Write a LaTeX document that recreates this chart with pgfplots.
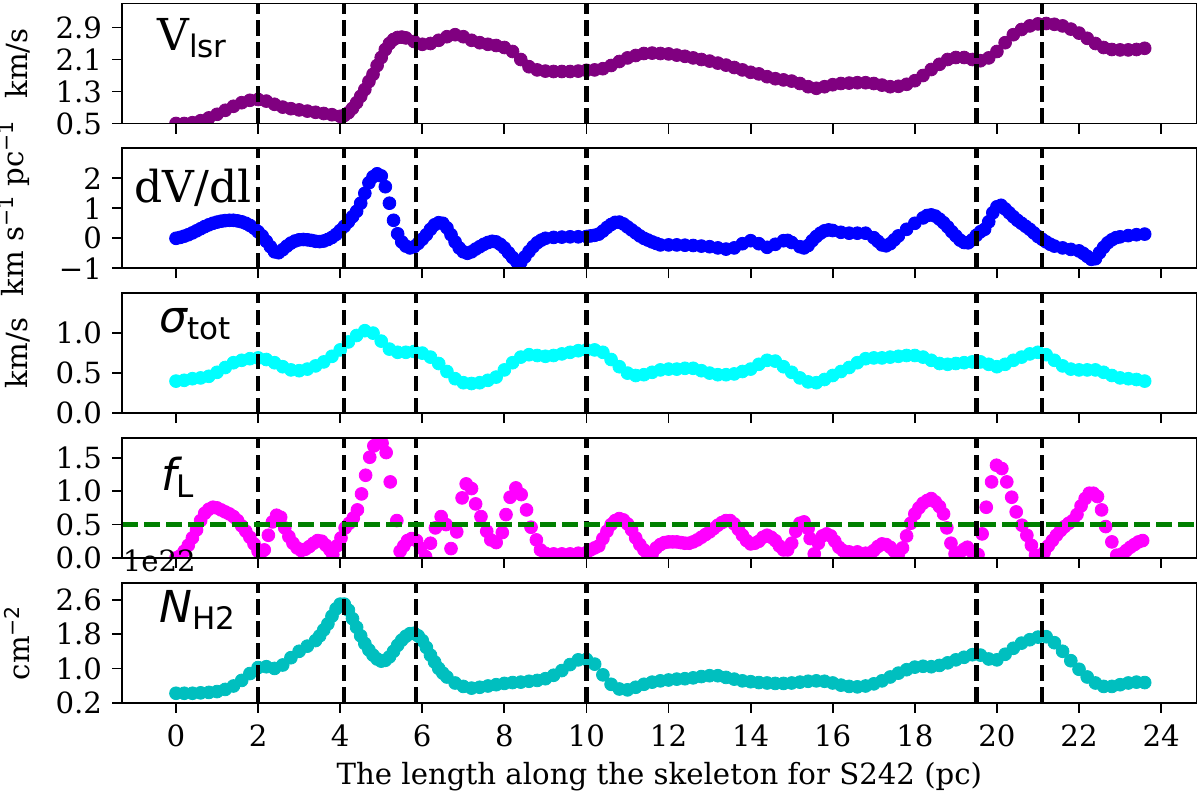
\documentclass[border=0pt]{standalone}
\usepackage{fontspec}
\setmainfont{DejaVu Serif}
\newfontfamily\sansf[ItalicFont={DejaVu Sans Oblique}]{DejaVu Sans}
\usepackage{pgfplots}
\pgfplotsset{compat=1.18}
\definecolor{vcol}{RGB}{128,0,128}
\definecolor{dcol}{RGB}{0,0,255}
\definecolor{scol}{RGB}{0,255,255}
\definecolor{fcol}{RGB}{255,0,255}
\definecolor{ncol}{RGB}{0,191,191}
\definecolor{gcol}{RGB}{0,128,0}
\newcommand{\tfs}{\fontsize{14.6}{17}\selectfont}
\newcommand{\lfs}{\fontsize{22}{26}\selectfont}
\newcommand{\sfs}{\fontsize{15.5}{18}\selectfont}
\pgfplotsset{
 panel/.style={
  scale only axis, width=537pt, height=60pt, anchor=north west,
  xmin=-1.306, xmax=24.86,
  xtick={0,2,...,24}, xticklabels={},
  tick pos=left, tick align=outside,
  major tick length=5pt,
  tick style={black, line width=0.9pt},
  axis line style={line width=0.9pt},
  ticklabel style={font=\tfs},
  yticklabel style={inner sep=0pt, anchor=east, xshift=-5pt},
  xticklabel style={inner sep=0pt, anchor=north, yshift=-6pt},
  /pgf/number format/assume math mode=true,
  clip mode=individual, clip marker paths=true, axis on top=true,
 },
 dots/.style={only marks, mark=*, mark size=3.2pt, color=#1, line width=0.4pt, mark options={solid, fill=#1, draw=#1}},
 vl/.style={black, line width=2.1pt, dash pattern=on 7.7pt off 3.3pt, forget plot},
}
\begin{document}
\begin{tikzpicture}
% ---------------- panel 1 : V_lsr
\begin{axis}[panel, name=p1, at={(0pt,0pt)},
  ymin=0.5, ymax=3.5, ytick={0.5,1.3,2.1,2.9}, yticklabels={0.5,1.3,2.1,2.9}]
\addplot[dots=vcol] coordinates {(0,0.50) (0.2,0.50) (0.4,0.52) (0.6,0.57) (0.8,0.64) (1.0,0.73) (1.2,0.83) (1.4,0.93) (1.6,1.02) (1.8,1.08) (2.0,1.10) (2.2,1.06) (2.4,0.98) (2.6,0.91) (2.8,0.87) (3.0,0.84) (3.2,0.81) (3.4,0.78) (3.6,0.75) (3.8,0.72) (4.0,0.68) (4.1,0.70) (4.2,0.77) (4.3,0.88) (4.4,1.02) (4.5,1.18) (4.6,1.35) (4.7,1.55) (4.8,1.73) (4.9,1.95) (5.0,2.15) (5.1,2.35) (5.2,2.50) (5.3,2.60) (5.4,2.65) (5.5,2.66) (5.6,2.64) (5.8,2.55) (6.0,2.48) (6.2,2.50) (6.4,2.58) (6.6,2.67) (6.8,2.72) (7.0,2.67) (7.2,2.58) (7.4,2.52) (7.6,2.48) (7.8,2.45) (8.0,2.40) (8.2,2.30) (8.4,2.10) (8.6,1.92) (8.8,1.84) (9.0,1.81) (9.2,1.80) (9.4,1.80) (9.6,1.80) (9.8,1.81) (10.0,1.83) (10.2,1.84) (10.4,1.87) (10.6,1.95) (10.8,2.05) (11.0,2.14) (11.2,2.20) (11.4,2.25) (11.6,2.26) (11.8,2.25) (12.0,2.24) (12.2,2.21) (12.4,2.18) (12.6,2.14) (12.8,2.10) (13.0,2.06) (13.2,2.01) (13.4,1.96) (13.6,1.90) (13.8,1.84) (14.0,1.78) (14.2,1.74) (14.4,1.67) (14.6,1.62) (14.8,1.59) (15.0,1.56) (15.2,1.50) (15.4,1.42) (15.6,1.38) (15.8,1.42) (16.0,1.47) (16.2,1.50) (16.4,1.51) (16.6,1.52) (16.8,1.52) (17.0,1.50) (17.2,1.46) (17.4,1.42) (17.6,1.43) (17.8,1.48) (18.0,1.57) (18.2,1.70) (18.4,1.85) (18.6,1.98) (18.8,2.10) (19.0,2.15) (19.2,2.15) (19.4,2.10) (19.6,2.07) (19.8,2.14) (20.0,2.30) (20.2,2.52) (20.4,2.72) (20.6,2.85) (20.8,2.94) (21.0,2.99) (21.2,3.00) (21.4,2.98) (21.6,2.94) (21.8,2.86) (22.0,2.76) (22.2,2.63) (22.4,2.50) (22.6,2.40) (22.8,2.35) (23.0,2.34) (23.2,2.34) (23.4,2.35) (23.6,2.38)};
\pgfplotsinvokeforeach{2,4.1,5.85,10,19.5,21.1}{\addplot[vl] coordinates {(#1,0.5) (#1,3.5)};}
\end{axis}
% ---------------- panel 2 : dV/dl
\begin{axis}[panel, name=p2, at={(0pt,-72.4pt)},
  ymin=-1, ymax=3, ytick={-1,0,1,2}, yticklabels={−1,0,1,2}]
\addplot[dots=dcol] coordinates {(0.0,0.00) (0.1,0.03) (0.2,0.07) (0.3,0.12) (0.4,0.18) (0.5,0.25) (0.6,0.32) (0.7,0.39) (0.8,0.45) (0.9,0.50) (1.0,0.54) (1.1,0.57) (1.2,0.59) (1.3,0.60) (1.4,0.60) (1.5,0.58) (1.6,0.55) (1.7,0.50) (1.8,0.43) (1.9,0.34) (2.0,0.22) (2.1,0.08) (2.2,-0.10) (2.3,-0.28) (2.4,-0.45) (2.5,-0.48) (2.6,-0.38) (2.7,-0.26) (2.8,-0.16) (2.9,-0.09) (3.0,-0.05) (3.1,-0.04) (3.2,-0.05) (3.3,-0.07) (3.4,-0.10) (3.5,-0.11) (3.6,-0.09) (3.7,-0.04) (3.8,0.03) (3.9,0.13) (4.0,0.26) (4.1,0.40) (4.2,0.55) (4.3,0.72) (4.4,0.90) (4.5,1.17) (4.6,1.50) (4.7,1.85) (4.8,2.05) (4.9,2.15) (5.0,2.08) (5.1,1.72) (5.2,1.17) (5.3,0.60) (5.4,0.15) (5.5,-0.12) (5.6,-0.26) (5.7,-0.32) (5.8,-0.28) (5.9,-0.17) (6.0,-0.03) (6.1,0.12) (6.2,0.30) (6.3,0.45) (6.4,0.52) (6.5,0.50) (6.6,0.35) (6.7,0.12) (6.8,-0.12) (6.9,-0.32) (7.0,-0.45) (7.1,-0.50) (7.2,-0.45) (7.3,-0.36) (7.4,-0.28) (7.5,-0.20) (7.6,-0.14) (7.7,-0.10) (7.8,-0.12) (7.9,-0.20) (8.0,-0.32) (8.1,-0.48) (8.2,-0.64) (8.3,-0.78) (8.4,-0.80) (8.5,-0.62) (8.6,-0.44) (8.7,-0.28) (8.8,-0.15) (8.9,-0.06) (9.0,0.00) (9.2,0.03) (9.4,0.04) (9.6,0.05) (9.8,0.05) (10.0,0.06) (10.1,0.08) (10.2,0.10) (10.3,0.14) (10.4,0.24) (10.5,0.36) (10.6,0.46) (10.7,0.53) (10.8,0.54) (10.9,0.48) (11.0,0.38) (11.1,0.28) (11.2,0.18) (11.3,0.08) (11.4,0.00) (11.5,-0.06) (11.6,-0.12) (11.7,-0.17) (11.8,-0.22) (12.0,-0.22) (12.2,-0.22) (12.4,-0.23) (12.6,-0.24) (12.8,-0.26) (13.0,-0.28) (13.2,-0.32) (13.4,-0.36) (13.6,-0.32) (13.8,-0.18) (14.0,-0.08) (14.2,-0.18) (14.4,-0.30) (14.6,-0.20) (14.8,-0.08) (14.9,-0.07) (15.0,-0.14) (15.2,-0.28) (15.3,-0.32) (15.4,-0.24) (15.5,-0.08) (15.6,0.06) (15.7,0.17) (15.8,0.25) (15.9,0.28) (16.0,0.26) (16.2,0.20) (16.4,0.17) (16.6,0.17) (16.8,0.17) (17.0,0.02) (17.1,-0.10) (17.2,-0.22) (17.3,-0.25) (17.4,-0.18) (17.5,-0.05) (17.6,0.08) (17.8,0.30) (18.0,0.50) (18.2,0.68) (18.3,0.76) (18.4,0.78) (18.5,0.74) (18.6,0.64) (18.7,0.52) (18.8,0.38) (18.9,0.22) (19.0,0.08) (19.1,-0.06) (19.2,-0.14) (19.3,-0.15) (19.4,-0.05) (19.5,0.10) (19.6,0.22) (19.7,0.30) (19.8,0.55) (19.9,0.85) (20.0,1.05) (20.1,1.10) (20.2,0.98) (20.3,0.85) (20.4,0.72) (20.5,0.60) (20.6,0.50) (20.7,0.40) (20.8,0.30) (20.9,0.18) (21.0,0.06) (21.1,-0.03) (21.2,-0.12) (21.3,-0.20) (21.4,-0.26) (21.6,-0.32) (21.8,-0.37) (22.0,-0.42) (22.1,-0.50) (22.2,-0.60) (22.3,-0.70) (22.4,-0.68) (22.5,-0.48) (22.6,-0.30) (22.7,-0.15) (22.8,-0.05) (22.9,0.02) (23.0,0.05) (23.2,0.09) (23.4,0.12) (23.6,0.14)};
\pgfplotsinvokeforeach{2,4.1,5.85,10,19.5,21.1}{\addplot[vl] coordinates {(#1,-1) (#1,3)};}
\end{axis}
% ---------------- panel 3 : sigma_tot
\begin{axis}[panel, name=p3, at={(0pt,-144.8pt)},
  ymin=0, ymax=1.5, ytick={0,0.5,1.0}, yticklabels={0.0,0.5,1.0}]
\addplot[dots=scol] coordinates {(0.0,0.40) (0.2,0.41) (0.4,0.43) (0.6,0.44) (0.8,0.46) (1.0,0.51) (1.2,0.57) (1.4,0.63) (1.6,0.66) (1.8,0.68) (2.0,0.69) (2.2,0.67) (2.4,0.63) (2.6,0.58) (2.8,0.54) (3.0,0.53) (3.2,0.55) (3.4,0.59) (3.6,0.64) (3.8,0.71) (4.0,0.79) (4.2,0.89) (4.4,0.97) (4.6,1.03) (4.8,1.00) (5.0,0.90) (5.2,0.80) (5.4,0.76) (5.6,0.76) (5.8,0.77) (6.0,0.75) (6.2,0.70) (6.4,0.62) (6.6,0.52) (6.8,0.43) (7.0,0.38) (7.2,0.37) (7.4,0.38) (7.6,0.41) (7.8,0.45) (8.0,0.54) (8.2,0.63) (8.4,0.70) (8.6,0.73) (8.8,0.72) (9.0,0.71) (9.2,0.72) (9.4,0.74) (9.6,0.76) (9.8,0.78) (10.0,0.79) (10.2,0.79) (10.4,0.76) (10.6,0.67) (10.8,0.58) (11.0,0.50) (11.2,0.47) (11.4,0.48) (11.6,0.51) (11.8,0.54) (12.0,0.55) (12.2,0.55) (12.4,0.56) (12.6,0.56) (12.8,0.53) (13.0,0.50) (13.2,0.48) (13.4,0.48) (13.6,0.49) (13.8,0.52) (14.0,0.55) (14.2,0.61) (14.4,0.66) (14.6,0.65) (14.8,0.58) (15.0,0.51) (15.2,0.44) (15.4,0.39) (15.6,0.38) (15.8,0.42) (16.0,0.47) (16.2,0.52) (16.4,0.57) (16.6,0.63) (16.8,0.68) (17.0,0.69) (17.2,0.69) (17.4,0.70) (17.6,0.71) (17.8,0.72) (18.0,0.72) (18.2,0.70) (18.4,0.66) (18.6,0.62) (18.8,0.61) (19.0,0.62) (19.2,0.63) (19.4,0.64) (19.6,0.64) (19.8,0.61) (20.0,0.58) (20.2,0.61) (20.4,0.66) (20.6,0.70) (20.8,0.74) (21.0,0.76) (21.2,0.73) (21.4,0.66) (21.6,0.59) (21.8,0.55) (22.0,0.54) (22.2,0.54) (22.4,0.54) (22.6,0.51) (22.8,0.47) (23.0,0.44) (23.2,0.43) (23.4,0.42) (23.6,0.40)};
\pgfplotsinvokeforeach{2,4.1,5.85,10,19.5,21.1}{\addplot[vl] coordinates {(#1,0) (#1,1.5)};}
\end{axis}
% ---------------- panel 4 : f_L
\begin{axis}[panel, name=p4, at={(0pt,-217.2pt)},
  ymin=0, ymax=1.8, ytick={0,0.5,1.0,1.5}, yticklabels={0.0,0.5,1.0,1.5}]
\addplot[dots=fcol] coordinates {(0.0,0.00) (0.1,0.03) (0.2,0.10) (0.3,0.19) (0.4,0.30) (0.5,0.42) (0.6,0.56) (0.7,0.67) (0.8,0.73) (0.9,0.76) (1.0,0.75) (1.1,0.72) (1.2,0.69) (1.3,0.66) (1.4,0.62) (1.5,0.56) (1.6,0.48) (1.7,0.40) (1.8,0.31) (1.9,0.21) (2.0,0.10) (2.05,0.06) (2.15,0.12) (2.25,0.34) (2.35,0.54) (2.45,0.64) (2.55,0.61) (2.65,0.45) (2.75,0.32) (2.85,0.22) (2.95,0.15) (3.05,0.11) (3.15,0.13) (3.25,0.17) (3.35,0.22) (3.45,0.26) (3.55,0.25) (3.65,0.19) (3.75,0.12) (3.82,0.05) (3.92,0.18) (4.02,0.30) (4.12,0.45) (4.22,0.52) (4.32,0.60) (4.42,0.72) (4.52,0.96) (4.62,1.24) (4.72,1.51) (4.82,1.68) (4.93,1.76) (5.02,1.72) (5.12,1.58) (5.22,1.14) (5.38,0.56) (5.46,0.10) (5.55,0.18) (5.64,0.26) (5.74,0.29) (5.86,0.26) (5.96,0.15) (6.08,0.02) (6.2,0.22) (6.32,0.45) (6.46,0.62) (6.58,0.50) (6.7,0.14) (6.84,0.39) (6.97,0.90) (7.07,1.11) (7.2,1.04) (7.3,0.81) (7.43,0.62) (7.57,0.40) (7.67,0.27) (7.8,0.23) (7.95,0.38) (8.04,0.65) (8.14,0.91) (8.28,1.05) (8.41,0.95) (8.54,0.72) (8.65,0.46) (8.78,0.27) (8.88,0.12) (9.0,0.07) (9.2,0.06) (9.4,0.06) (9.6,0.06) (9.8,0.07) (10.0,0.08) (10.1,0.12) (10.2,0.15) (10.3,0.18) (10.4,0.29) (10.5,0.40) (10.6,0.50) (10.7,0.56) (10.8,0.59) (10.9,0.57) (11.0,0.51) (11.1,0.42) (11.2,0.30) (11.3,0.20) (11.4,0.12) (11.5,0.03) (11.6,0.06) (11.7,0.15) (11.8,0.20) (11.9,0.23) (12.0,0.24) (12.1,0.24) (12.2,0.24) (12.3,0.23) (12.4,0.22) (12.5,0.22) (12.6,0.24) (12.7,0.27) (12.8,0.31) (12.9,0.35) (13.0,0.39) (13.1,0.44) (13.2,0.49) (13.3,0.53) (13.4,0.56) (13.5,0.56) (13.6,0.51) (13.7,0.43) (13.8,0.34) (13.9,0.26) (14.0,0.21) (14.1,0.22) (14.2,0.25) (14.3,0.31) (14.4,0.34) (14.5,0.31) (14.6,0.26) (14.7,0.18) (14.8,0.12) (14.9,0.12) (15.0,0.22) (15.1,0.40) (15.2,0.52) (15.3,0.54) (15.4,0.44) (15.45,0.29) (15.55,0.06) (15.65,0.22) (15.75,0.33) (15.85,0.36) (15.95,0.33) (16.05,0.25) (16.15,0.16) (16.25,0.11) (16.4,0.09) (16.6,0.09) (16.8,0.07) (16.9,0.07) (17.0,0.11) (17.1,0.17) (17.2,0.21) (17.3,0.20) (17.4,0.16) (17.5,0.10) (17.6,0.06) (17.7,0.15) (17.8,0.33) (17.9,0.52) (18.0,0.66) (18.1,0.75) (18.2,0.82) (18.3,0.86) (18.4,0.89) (18.5,0.84) (18.6,0.77) (18.7,0.66) (18.78,0.45) (18.88,0.22) (18.98,0.06) (19.1,0.08) (19.2,0.13) (19.28,0.16) (19.4,0.09) (19.54,0.05) (19.64,0.36) (19.74,0.76) (19.87,1.14) (19.99,1.39) (20.12,1.34) (20.24,1.14) (20.36,0.91) (20.47,0.69) (20.61,0.49) (20.73,0.34) (20.84,0.19) (20.94,0.04) (21.05,0.02) (21.15,0.08) (21.25,0.18) (21.35,0.26) (21.45,0.34) (21.55,0.41) (21.65,0.47) (21.75,0.52) (21.85,0.56) (21.95,0.65) (22.05,0.78) (22.15,0.89) (22.25,0.97) (22.35,0.97) (22.45,0.92) (22.55,0.72) (22.65,0.47) (22.8,0.24) (22.92,0.04) (23.05,0.06) (23.15,0.11) (23.25,0.16) (23.35,0.20) (23.45,0.24) (23.55,0.26)};
\pgfplotsinvokeforeach{2,4.1,5.85,10,19.5,21.1}{\addplot[vl] coordinates {(#1,0) (#1,1.8)};}
\addplot[gcol, line width=2.1pt, dash pattern=on 7.7pt off 3.3pt, forget plot] coordinates {(-1.306,0.5) (24.86,0.5)};
\end{axis}
% ---------------- panel 5 : N_H2
\begin{axis}[panel, name=p5, at={(0pt,-289.6pt)},
  ymin=0.2, ymax=3.0, ytick={0.2,1.0,1.8,2.6}, yticklabels={0.2,1.0,1.8,2.6},
  xticklabels={0,2,4,6,8,10,12,14,16,18,20,22,24}]
\addplot[dots=ncol] coordinates {(0.0,0.42) (0.2,0.42) (0.4,0.42) (0.6,0.43) (0.8,0.44) (1.0,0.46) (1.2,0.51) (1.4,0.59) (1.6,0.72) (1.8,0.88) (2.0,1.02) (2.2,1.04) (2.4,1.00) (2.6,1.08) (2.8,1.25) (3.0,1.40) (3.2,1.52) (3.4,1.65) (3.5,1.76) (3.6,1.90) (3.7,2.04) (3.8,2.22) (3.9,2.39) (4.0,2.50) (4.1,2.50) (4.2,2.36) (4.3,2.16) (4.4,1.96) (4.5,1.76) (4.6,1.58) (4.7,1.43) (4.8,1.31) (4.9,1.22) (5.0,1.17) (5.1,1.19) (5.2,1.27) (5.3,1.40) (5.4,1.54) (5.5,1.66) (5.6,1.75) (5.7,1.81) (5.8,1.82) (5.9,1.76) (6.0,1.65) (6.1,1.49) (6.2,1.31) (6.3,1.15) (6.4,1.00) (6.5,0.89) (6.6,0.80) (6.8,0.66) (7.0,0.58) (7.2,0.54) (7.4,0.56) (7.6,0.59) (7.8,0.62) (8.0,0.65) (8.2,0.67) (8.4,0.68) (8.6,0.70) (8.8,0.72) (9.0,0.76) (9.2,0.84) (9.4,0.95) (9.6,1.09) (9.8,1.20) (10.0,1.21) (10.2,1.10) (10.4,0.85) (10.6,0.63) (10.8,0.52) (11.0,0.50) (11.2,0.56) (11.4,0.63) (11.6,0.68) (11.8,0.71) (12.0,0.73) (12.2,0.75) (12.4,0.76) (12.6,0.78) (12.8,0.81) (13.0,0.83) (13.2,0.83) (13.4,0.79) (13.6,0.75) (13.8,0.71) (14.0,0.69) (14.2,0.67) (14.4,0.66) (14.6,0.65) (14.8,0.65) (15.0,0.66) (15.2,0.68) (15.4,0.70) (15.6,0.71) (15.8,0.70) (16.0,0.66) (16.2,0.61) (16.4,0.58) (16.6,0.57) (16.8,0.59) (17.0,0.64) (17.2,0.71) (17.4,0.80) (17.6,0.89) (17.8,0.97) (18.0,1.03) (18.2,1.05) (18.4,1.04) (18.6,1.07) (18.8,1.13) (19.0,1.20) (19.2,1.26) (19.4,1.32) (19.6,1.31) (19.8,1.22) (20.0,1.20) (20.2,1.33) (20.4,1.47) (20.6,1.59) (20.8,1.67) (21.0,1.73) (21.2,1.74) (21.4,1.60) (21.6,1.40) (21.8,1.18) (22.0,0.98) (22.2,0.80) (22.4,0.66) (22.6,0.58) (22.8,0.58) (23.0,0.62) (23.2,0.66) (23.4,0.68) (23.6,0.67)};
\pgfplotsinvokeforeach{2,4.1,5.85,10,19.5,21.1}{\addplot[vl] coordinates {(#1,0.2) (#1,3.0)};}
\end{axis}
% ---------------- labels
\node[rotate=90, anchor=south, inner sep=0pt, font=\tfs] at ([xshift=-46pt]p1.west) {km/s};
\node[rotate=90, anchor=south, inner sep=0pt, font=\tfs] at ([xshift=-46pt]p2.west) {km s\textsuperscript{\sansf −1} pc\textsuperscript{\sansf −1}};
\node[rotate=90, anchor=south, inner sep=0pt, font=\tfs] at ([xshift=-46pt]p3.west) {km/s};
\node[rotate=90, anchor=south, inner sep=0pt, font=\tfs] at ([xshift=-46pt]p5.west) {cm\textsuperscript{\sansf −2}};
\node[anchor=base west, inner sep=0pt, font=\tfs] at ([yshift=5.8pt]p5.north west) {1e22};
\node[anchor=base, inner sep=0pt, font=\tfs] at ([yshift=-40.85pt]p5.south) {The length along the skeleton for S242 (pc)};
\node[anchor=base west, inner sep=0pt] at ([xshift=17.3pt,yshift=-23.25pt]p1.north west) {\lfs V\raisebox{-3.5pt}{\sansf\sfs lsr}};
\node[anchor=base west, inner sep=0pt] at ([xshift=5.8pt,yshift=-27pt]p2.north west) {\lfs dV/dl};
\node[anchor=base west, inner sep=0pt] at ([xshift=18.3pt,yshift=-19.85pt]p3.north west) {{\sansf\itshape\lfs σ}\raisebox{-3.5pt}{\sansf\sfs tot}};
\node[anchor=base west, inner sep=0pt] at ([xshift=19.3pt,yshift=-26.15pt]p4.north west) {{\sansf\itshape\lfs f}\raisebox{-3.5pt}{\sansf\sfs L}};
\node[anchor=base west, inner sep=0pt] at ([xshift=18.3pt,yshift=-20pt]p5.north west) {{\sansf\itshape\lfs N}\raisebox{-3.5pt}{\sansf\sfs H2}};
\pgfresetboundingbox
\path[use as bounding box] (-61.2pt,1.75pt) rectangle (538.8pt,-397.25pt);
\end{tikzpicture}
\end{document}
